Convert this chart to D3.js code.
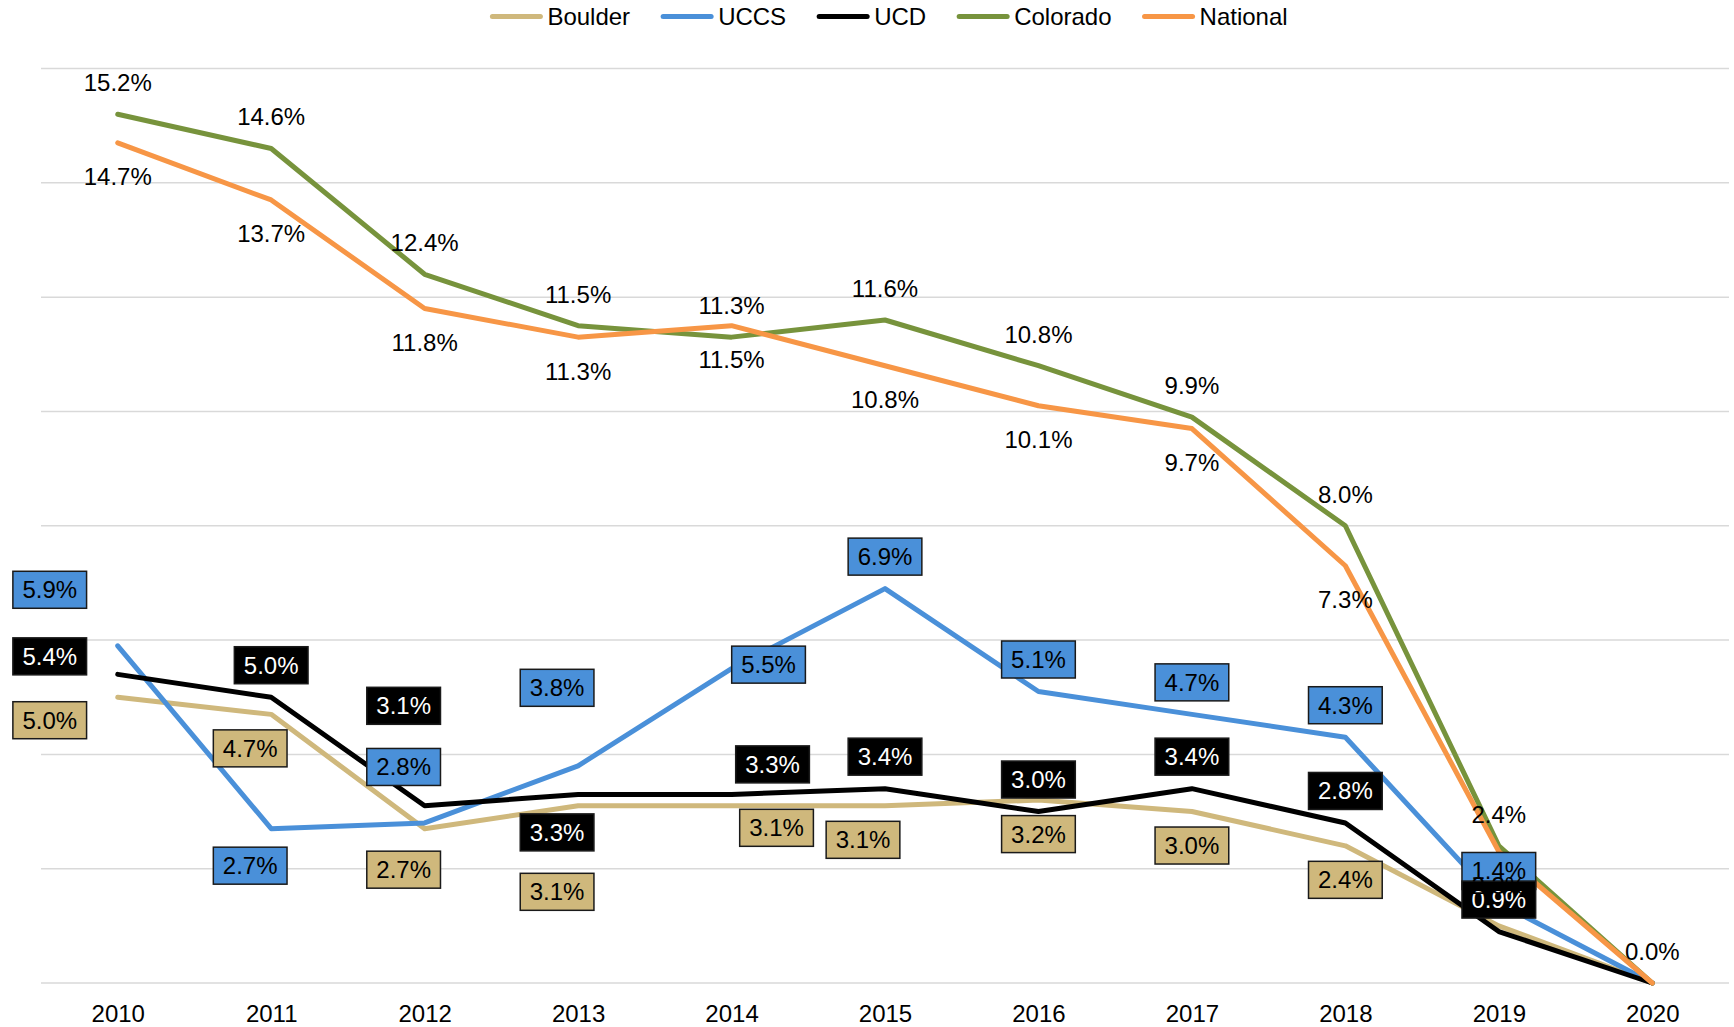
<!DOCTYPE html>
<html>
<head>
<meta charset="utf-8">
<script src="https://cdn.jsdelivr.net/npm/d3@7"></script>
<style>
body { margin: 0; background: #fff; }
svg { display: block; font-family: "Liberation Sans", Arial, Helvetica, sans-serif; }
</style>
</head>
<body>
<svg id="viz" width="1734" height="1027"></svg>
<script>
var years = ["2010", "2011", "2012", "2013", "2014", "2015", "2016", "2017", "2018", "2019", "2020"];

var boulder = [5.0, 4.7, 2.7, 3.1, 3.1, 3.1, 3.2, 3.0, 2.4, 1.0, 0.0];
var uccs = [5.9, 2.7, 2.8, 3.8, 5.5, 6.9, 5.1, 4.7, 4.3, 1.4, 0.0];
var ucd = [5.4, 5.0, 3.1, 3.3, 3.3, 3.4, 3.0, 3.4, 2.8, 0.9, 0.0];
var colorado = [15.2, 14.6, 12.4, 11.5, 11.3, 11.6, 10.8, 9.9, 8.0, 2.4, 0.0];
var national = [14.7, 13.7, 11.8, 11.3, 11.5, 10.8, 10.1, 9.7, 7.3, 2.3, 0.0];

var seriesNames = ["Boulder", "UCCS", "UCD", "Colorado", "National"];
var yTicks = [0, 2, 4, 6, 8, 10, 12, 14, 16];

// label styling per series
var colors = ["#cfb87c", "#4a90d9", "#000000", "#77933c", "#f79646"];
var labelDy = [34, -32, -32, -31.5, 34];          // default: below / above the point
var labelBoxed = [true, true, true, false, false];
var labelInk = ["#000", "#000", "#fff", "#000", "#000"];

// labels that were dragged by hand in the original, index -> [dx, dy]
var boulderMoves = {0: [-68, 23], 1: [-21, 34], 2: [-21, 41], 3: [-21, 86], 4: [45, 22], 5: [-22, 34]};
var uccsMoves = {0: [-68, -56], 1: [-21, 37], 2: [-21, -56], 3: [-21, -78], 4: [37, -4]};
var ucdMoves = {0: [-68, -18], 2: [-21, -100], 3: [-21, 38], 4: [41, -30]};
var noMoves = {};
// labels that are not shown
var boulderSkip = [9, 10];
var uccsSkip = [10];
var ucdSkip = [10];
var coloradoSkip = [];
var nationalSkip = [10];

var GLOBAL = {
    values: [boulder, uccs, ucd, colorado, national],
    moves: [boulderMoves, uccsMoves, ucdMoves, noMoves, noMoves],
    skips: [boulderSkip, uccsSkip, ucdSkip, coloradoSkip, nationalSkip]
};

var svg = d3.select("#viz");

var x = d3.scalePoint()
    .domain(years)
    .range([41, 1729])
    .padding(0.5);

var y = d3.scaleLinear()
    .domain([0, 16])
    .range([983, 68.5]);

// gridlines
svg.append("g")
    .selectAll("line")
    .data(yTicks)
    .enter().append("line")
    .attr("x1", 41)
    .attr("x2", 1729)
    .attr("y1", function(d) { return y(d); })
    .attr("y2", function(d) { return y(d); })
    .attr("stroke", "#d9d9d9")
    .attr("stroke-width", 1.5);

// year labels
var xAxis = svg.append("g")
    .attr("transform", "translate(0,1004.5)")
    .call(d3.axisBottom(x).tickSize(0).tickPadding(0));
xAxis.select(".domain").remove();
xAxis.selectAll("text")
    .attr("font-family", "\"Liberation Sans\", Arial, Helvetica, sans-serif")
    .attr("font-size", 24)
    .attr("fill", "#000")
    .attr("dy", "0.71em");

var line = d3.line()
    .x(function(d, i) { return x(years[i]); })
    .y(function(d) { return y(d); });

GLOBAL.values.forEach(function(vals, s) {
    svg.append("path")
        .datum(vals)
        .attr("d", line)
        .attr("fill", "none")
        .attr("stroke", colors[s])
        .attr("stroke-width", 5)
        .attr("stroke-linejoin", "round")
        .attr("stroke-linecap", "round");
});

// data labels, drawn after all lines in series order
GLOBAL.values.forEach(function(vals, s) {
    vals.forEach(function(v, i) {
        if (GLOBAL.skips[s].indexOf(i) >= 0) return;
        var mv = GLOBAL.moves[s][i] || [0, labelDy[s]];
        var cx = x(years[i]) + mv[0];
        var cy = y(v) + mv[1];
        var g = svg.append("g").attr("transform", "translate(" + cx + "," + cy + ")");
        var rect = null;
        if (labelBoxed[s]) rect = g.append("rect");
        var t = g.append("text")
            .attr("text-anchor", "middle")
            .attr("dy", "0.35em")
            .attr("font-size", 24)
            .attr("fill", labelInk[s])
            .text(v.toFixed(1) + "%");
        if (rect) {
            var w = t.node().getComputedTextLength() + 19;
            rect.attr("x", -w / 2)
                .attr("y", -18.5)
                .attr("width", w)
                .attr("height", 37)
                .attr("fill", colors[s])
                .attr("stroke", "#1a1a1a")
                .attr("stroke-width", 1.5);
        }
    });
});

// legend
var legend = svg.append("g");
var lx = 0;
seriesNames.forEach(function(name, s) {
    var item = legend.append("g").attr("transform", "translate(" + lx + ",0)");
    item.append("line")
        .attr("x1", 2).attr("x2", 50)
        .attr("y1", 0).attr("y2", 0)
        .attr("stroke", colors[s])
        .attr("stroke-width", 5)
        .attr("stroke-linecap", "round");
    var t = item.append("text")
        .attr("x", 57)
        .attr("dy", "0.35em")
        .attr("font-size", 24)
        .attr("fill", "#000")
        .text(name);
    lx += 57 + t.node().getComputedTextLength() + 31;
});
lx -= 31;
legend.attr("transform", "translate(" + (889 - lx / 2) + ",16.5)");
</script>
</body>
</html>
